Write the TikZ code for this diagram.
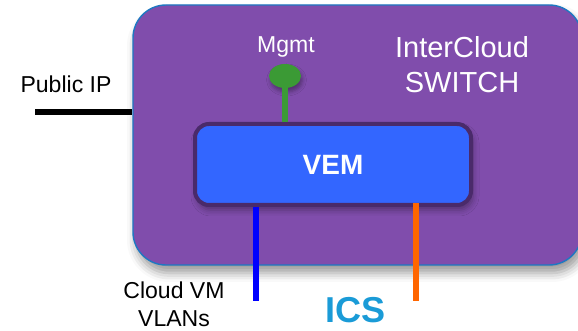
\documentclass[tikz,border=0pt]{standalone}
\usepackage{fontspec}
\setmainfont{Liberation Sans}
\usetikzlibrary{shapes,shadows.blur}
\definecolor{switchpurple}{HTML}{804DAC}
\definecolor{switchedge}{HTML}{1E78C2}
\definecolor{vemblue}{HTML}{3366FF}
\definecolor{vemedge}{HTML}{4A2A6A}
\definecolor{mgmtgreen}{HTML}{3B9A35}
\definecolor{icsorange}{HTML}{FF6600}
\definecolor{icsblue}{HTML}{1A9BD7}
\tikzset{
  switchbox/.style={draw=switchedge,line width=0.8pt,fill=switchpurple,rounded corners=0.66cm,
    minimum width=8.98cm,minimum height=5.2cm,inner sep=0pt,
    blur shadow={shadow xshift=0.06cm,shadow yshift=-0.16cm,shadow blur radius=0.18cm,shadow opacity=40}},
  vembox/.style={draw=vemedge,line width=0.08cm,fill=vemblue,rounded corners=0.28cm,
    minimum width=5.52cm,minimum height=1.62cm,inner sep=0pt,text=white,
    font=\fontsize{15.9}{19}\selectfont\bfseries,
    blur shadow={shadow xshift=0.04cm,shadow yshift=-0.1cm,shadow blur radius=0.12cm,shadow opacity=35}},
  mgmtdot/.style={ellipse,fill=mgmtgreen,minimum width=0.64cm,minimum height=0.48cm,inner sep=0pt,
    blur shadow={shadow xshift=0.03cm,shadow yshift=-0.08cm,shadow blur radius=0.08cm,shadow opacity=35}},
  wire/.style={line width=0.12cm},
  whitelabel/.style={text=white,inner sep=0pt},
  blacklabel/.style={text=black,inner sep=0pt},
}

\begin{document}
\begin{tikzpicture}
\useasboundingbox (0,0) rectangle (11.56,6.62); % page

%%% InterCloud switch and VEM

\node[switchbox] (switch) at (7.15,3.92) {}; % InterCloud switch box
\node[whitelabel,align=center,font=\fontsize{16.5}{19.9}\selectfont] (switchlabel) at (9.24,5.32) {InterCloud\\SWITCH}; % switch label
\node[whitelabel,anchor=base,font=\fontsize{13.1}{15.9}\selectfont] (mgmtlabel) at (5.72,5.56) {Mgmt}; % Mgmt label
\node[vembox] (vem) at (6.66,3.33) {VEM}; % VEM box
\node[mgmtdot] (mgmt) at (5.70,5.10) {}; % Mgmt port
\draw[wire,mgmtgreen] (mgmt.center) -- (mgmt.center |- vem.north); % Mgmt wiring

% Public IP

\coordinate (pubip) at (0.70,4.38); % free end
\draw[wire,black] (pubip) -- (pubip -| switch.west); % Public IP wiring
\node[blacklabel,anchor=base,font=\fontsize{13.1}{15.9}\selectfont] (pubiplabel) at (1.32,4.76) {Public IP}; % Public IP label

% VLAN and ICS links

\coordinate (vlan) at (5.12,0.60); % free end
\coordinate (ics) at (8.32,0.60); % free end
\draw[wire,blue] (vlan) -- (vlan |- vem.south); % VLAN wiring
\draw[wire,icsorange] (ics) -- ([yshift=0.08cm]ics |- vem.south); % ICS wiring
\node[blacklabel,align=center,font=\fontsize{13.1}{15.9}\selectfont] (vlanlabel) at (3.48,0.53) {Cloud VM\\VLANs}; % VLAN label
\node[text=icsblue,inner sep=0pt,anchor=base,font=\fontsize{20.5}{24}\selectfont\bfseries] (icslabel) at (7.11,0.16) {ICS}; % ICS label
\end{tikzpicture}
\end{document}
